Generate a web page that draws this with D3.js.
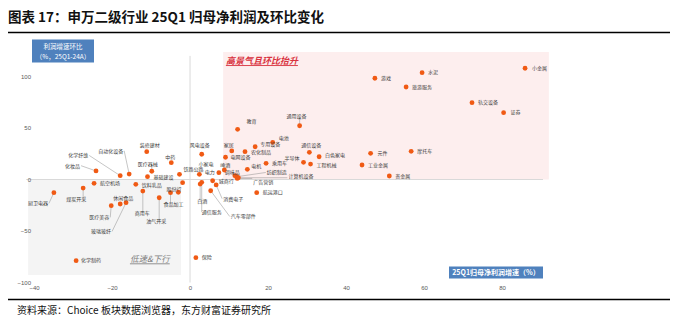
<!DOCTYPE html>
<html><head><meta charset="utf-8">
<script src="https://cdn.jsdelivr.net/npm/d3@7/dist/d3.min.js"></script>
<style>
html,body{margin:0;padding:0;background:#fff;}
svg{display:block;}
text{font-family:"Noto Sans CJK SC","Noto Sans",sans-serif;}
</style></head>
<body>
<script>
// ---- data ----
const industries = ["小金属","证券","轨交设备","水泥","游戏","旅游服务","教育","通用设备","电池","专用设备",
"家居","农化制品","通信设备","半导体","白色家电","工程机械","电网设备","乘用车","元件","摩托车",
"工业金属","贵金属","风电设备","小家电","啤酒","电力","电机","调味品","纺织制造","计算机设备",
"广告营销","航运港口","消费电子","汽车零部件","城商行","白酒","通信服务","保险","化学制药","装修建材",
"中药","医疗器械","基础建设","化学纤维","自动化设备","化妆品","铁路公路","股份行","国有大型银行","航空机场",
"饮料乳品","厨卫电器","煤炭开采","休闲食品","玻璃玻纤","医疗美容","商用车","油气开采","食品加工"];
const growth25Q1 = [85.9,80.4,72.3,59.5,47.4,55.4,12.2,28.1,21.2,16.7,
10.7,14.1,30.6,29.1,33.1,30.9,9.1,19.5,46.3,56.7,
44.1,51.1,3.0,2.4,8.8,7.4,14.7,11.5,12.0,12.4,
12.1,17.1,6.7,5.3,5.8,2.6,3.0,1.5,-29.2,-11.1,
-4.8,-9.8,-10.9,-17.9,-15.6,-24.1,-2.7,-1.9,-3.0,-24.6,
-13.9,-34.9,-27.4,-17.9,-16.4,-20.2,-12.1,-7.9,-5.0];
const qoqChange = [108.0,64.9,74.6,103.7,98.3,89.8,48.7,52.2,36.1,31.8,
27.7,27.0,26.4,16.7,22.1,15.0,21.6,15.7,25.4,27.4,
14.1,3.4,24.5,5.0,9.2,6.6,9.9,3.7,2.7,1.7,
1.0,-12.8,-5.3,-10.9,-1.2,-4.4,-2.7,-75.9,-78.8,27.0,
16.3,8.0,2.7,3.7,5.3,8.3,5.0,-3.1,-12.4,-3.7,
-4.7,-12.8,-8.3,-23.8,-22.5,-25.4,-11.2,-17.7,-12.8];
const xTicks = [-40,-20,0,20,40,60,80];
const yTicks = [-100,-50,0,50,100];

// ---- label layout (pixel offsets from point: dx, dy, anchor) ----
const labelLayout = {
"小金属":[7,0,"start"],"证券":[7,0,"start"],"轨交设备":[6,0,"start"],"水泥":[6,0,"start"],"游戏":[6,0,"start"],
"旅游服务":[6,0,"start"],"教育":[9,-8,"start"],"通用设备":[-13,-9,"start"],"电池":[6,-4,"start"],"专用设备":[5,-2,"start"],
"家居":[-8,-6,"start"],"农化制品":[6,1,"start"],"通信设备":[-8,-7,"start"],"半导体":[-4,-4,"end"],"白色家电":[6,-1,"start"],
"工程机械":[6,1,"start"],"电网设备":[5,0,"start"],"乘用车":[6,0,"start"],"元件":[7,0,"start"],"摩托车":[6,0,"start"],
"工业金属":[6,0,"start"],"贵金属":[6,0,"start"],"风电设备":[-12,-9,"start"],"小家电":[-1,-10,"start"],"啤酒":[-4,-5,"start"],
"电力":[-4,0,"end"],"电机":[4,-3,"start"],"调味品":[-10,-3,"start"],"纺织制造":[30,-4,"start"],"计算机设备":[50,-1,"start"],
"广告营销":[16,4,"start"],"航运港口":[6,0,"start"],"消费电子":[7,14,"start"],"汽车零部件":[20,26,"start"],"城商行":[6,1,"start"],
"白酒":[-3,17,"start"],"通信服务":[0,30,"start"],"保险":[6,0,"start"],"化学制药":[5,0,"start"],"装修建材":[-7,-6,"start"],
"中药":[-6,-5,"start"],"医疗器械":[-14,-7,"start"],"基础建设":[6,1,"start"],"化学纤维":[-52,-20,"start"],"自动化设备":[-31,-23,"start"],
"化妆品":[-16,-5,"end"],"铁路公路":[4,-5,"start"],"股份行":[-1,7,"end"],"航空机场":[6,0,"start"],
"饮料乳品":[6,1,"start"],"厨卫电器":[-6,11,"end"],"煤炭开采":[-17,11,"start"],"休闲食品":[-7,-6,"start"],"玻璃玻纤":[-35,29,"start"],
"医疗美容":[-22,12,"start"],"商用车":[-8,22,"start"],"油气开采":[-13,24,"start"],"食品加工":[-7,12,"start"]
};

const W = 679, H = 325;
const svg = d3.select("body").append("svg").attr("width", W).attr("height", H);

const x = d3.scaleLinear().domain([-42, 90.5]).range([26.2, 543]);
const y = d3.scaleLinear().domain([-100, 120]).range([282.5, 55.9]);

// title
svg.append("text").attr("x", 8).attr("y", 22).attr("font-size", 13.5).attr("font-weight", "bold")
  .attr("fill", "#111").text("图表 17：申万二级行业 25Q1 归母净利润及环比变化");
svg.append("line").attr("x1", 8).attr("x2", 670).attr("y1", 32.5).attr("y2", 32.5)
  .attr("stroke", "#000").attr("stroke-width", 1.5);

// shaded regions
svg.append("rect").attr("x", x(8.5)).attr("y", y(123.8))
  .attr("width", x(92) - x(8.5)).attr("height", y(0) - y(123.8)).attr("fill", "#fdeeee");
svg.append("rect").attr("x", x(-41.5)).attr("y", y(0))
  .attr("width", x(-2.3) - x(-41.5)).attr("height", y(-92.7) - y(0)).attr("fill", "#f4f4f4");

// axis lines
svg.append("line").attr("x1", x(0)).attr("x2", x(0)).attr("y1", y(120)).attr("y2", y(-100))
  .attr("stroke", "#d9d9d9").attr("stroke-width", 1);
svg.append("line").attr("x1", x(-42)).attr("x2", x(90.5)).attr("y1", y(0)).attr("y2", y(0))
  .attr("stroke", "#d9d9d9").attr("stroke-width", 1);

// tick labels via axes
const xAxis = d3.axisBottom(x).tickValues(xTicks).tickSize(0).tickPadding(0);
const gx = svg.append("g").attr("transform", `translate(0,${y(-100) + 3})`).call(xAxis);
gx.select(".domain").remove();
gx.selectAll("text").attr("font-size", 6).attr("fill", "#595959").attr("dy", "0.71em")
  .style("font-family", "'Liberation Sans',Arial,sans-serif");
const yAxis = d3.axisLeft(y).tickValues(yTicks).tickSize(0).tickPadding(0);
const gy = svg.append("g").attr("transform", `translate(31,0)`).call(yAxis);
gy.select(".domain").remove();
gy.selectAll("text").attr("font-size", 6).attr("fill", "#595959")
  .style("font-family", "'Liberation Sans',Arial,sans-serif");

// annotation texts
svg.append("text").attr("x", x(9.2)).attr("y", y(112)).attr("font-size", 9).attr("font-style", "italic")
  .attr("font-weight", "bold").attr("fill", "#d9333f").attr("text-decoration", "underline")
  .text("高景气且环比抬升");
svg.append("text").attr("x", x(-15.4)).attr("y", y(-80.5)).attr("font-size", 8.5).attr("font-style", "italic")
  .attr("fill", "#7f7f7f").attr("text-decoration", "underline").text("低速&下行");

// axis title boxes
const blue = "#4f81bd";
svg.append("rect").attr("x", 32).attr("y", 39.5).attr("width", 62).attr("height", 23).attr("fill", blue);
svg.append("text").attr("x", 63).attr("y", 49).attr("text-anchor", "middle").attr("font-size", 6.5)
  .attr("fill", "#fff").text("利润增速环比");
svg.append("text").attr("x", 63).attr("y", 58.5).attr("text-anchor", "middle").attr("font-size", 6.5)
  .attr("fill", "#fff").text("（%，25Q1-24A）");
svg.append("rect").attr("x", 449).attr("y", 266.5).attr("width", 94).attr("height", 12).attr("fill", blue);
svg.append("text").attr("x", 496).attr("y", 275).attr("text-anchor", "middle").attr("font-size", 7)
  .attr("font-weight", "bold").attr("fill", "#fff").text("25Q1归母净利润增速（%）");

// points + labels
const data = industries.map((n, i) => ({name: n, gx: growth25Q1[i], gy: qoqChange[i]}));
const leaderG = svg.append("g");
const pointG = svg.append("g");
const labelG = svg.append("g");

data.forEach(d => {
  const px = x(d.gx), py = y(d.gy);
  const lay = labelLayout[d.name];
  if (lay) {
    const t = labelG.append("text").attr("x", px + lay[0]).attr("y", py + lay[1])
      .attr("dy", "0.35em").attr("text-anchor", lay[2]).attr("font-size", 5)
      .attr("fill", "#404040").text(d.name);
    const far = Math.abs(lay[0]) > 12 || Math.abs(lay[1]) > 10;
    if (far) {
      const b = t.node().getBBox();
      const cx = Math.max(b.x, Math.min(px, b.x + b.width));
      const cy = Math.max(b.y, Math.min(py, b.y + b.height));
      const ex = (cx === px) ? cx : cx + (px > cx ? 1 : -1);
      const ey = (cy === py) ? cy : b.y + b.height / 2;
      leaderG.append("line").attr("x1", px).attr("y1", py).attr("x2", ex).attr("y2", ey)
        .attr("stroke", "#8c8c8c").attr("stroke-width", 0.5);
    }
  }
  pointG.append("circle").attr("cx", px).attr("cy", py).attr("r", 2.4).attr("fill", "#f05a14");
});

// source
svg.append("line").attr("x1", 8).attr("x2", 670).attr("y1", 299.5).attr("y2", 299.5)
  .attr("stroke", "#000").attr("stroke-width", 1.5);
svg.append("text").attr("x", 17).attr("y", 314).attr("font-size", 10).attr("fill", "#111")
  .text("资料来源：Choice 板块数据浏览器，东方财富证券研究所");
</script>
</body></html>
